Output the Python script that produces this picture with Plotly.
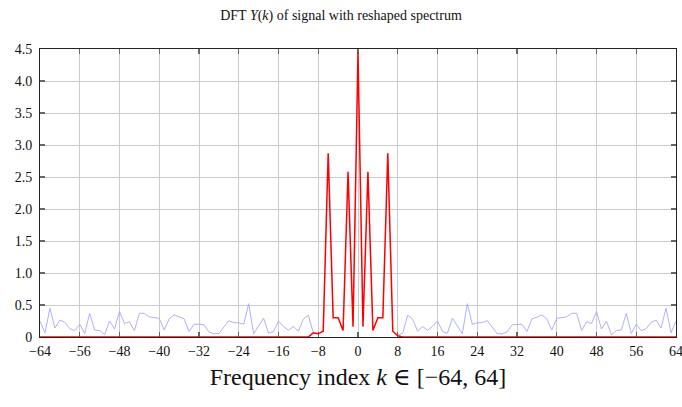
import plotly.graph_objects as go

k = list(range(-64, 65))

# |Y(k)| of noisy signal (blue), for k = -64..64 (None where not drawn)
blue_left = [0.25, 0.065, 0.45, 0.14, 0.265, 0.23, 0.13, 0.10, 0.20, 0.055,
             0.37, 0.11, 0.10, 0.035, 0.25, 0.125, 0.40, 0.21, 0.24, 0.10,
             0.37, 0.37, 0.315, 0.305, 0.29, 0.11, 0.285, 0.345, 0.31, 0.285,
             0.085, 0.20, 0.20, 0.19, 0.08, 0.05, 0.055, 0.155, 0.255, 0.225,
             0.22, 0.20, 0.52, 0.05, 0.17, 0.295, 0.06, 0.085, 0.25, 0.165,
             0.105, 0.165, 0.09, 0.28, 0.34, 0.07]          # k = -64..-9
blue_mid = [None] * 16                                      # k = -8..7
blue_right = [0.03, 0.06, 0.34, 0.28, 0.09, 0.165, 0.105, 0.165, 0.25, 0.085,
              0.06, 0.295, 0.17, 0.05, 0.52, 0.20, 0.22, 0.225, 0.255, 0.155,
              0.055, 0.05, 0.08, 0.19, 0.20, 0.20, 0.085, 0.285, 0.31, 0.345,
              0.285, 0.11, 0.29, 0.305, 0.315, 0.37, 0.37, 0.10, 0.24, 0.21,
              0.40, 0.125, 0.25, 0.035, 0.10, 0.11, 0.37, 0.055, 0.20, 0.10,
              0.13, 0.23, 0.265, 0.14, 0.45, 0.065, 0.25]   # k = 8..64
blue = blue_left + blue_mid + blue_right

# |Y(k)| of reshaped spectrum (red)
red_center = [0.065, 0.05, 0.09, 2.87, 0.30, 0.30, 0.10, 2.58, 0.16, 4.45,
              0.16, 2.58, 0.10, 0.30, 0.30, 2.87, 0.09, 0.02]   # k = -9..8
red = [0.0] * 55 + red_center + [0.0] * 56

x_ticks = list(range(-64, 65, 8))
x_labels = [("\u2212" + str(-v)) if v < 0 else str(v) for v in x_ticks]
y_ticks = [0, 0.5, 1.0, 1.5, 2.0, 2.5, 3.0, 3.5, 4.0, 4.5]
y_labels = ["0", "0.5", "1.0", "1.5", "2.0", "2.5", "3.0", "3.5", "4.0", "4.5"]

font_family = "Liberation Serif, DejaVu Serif, serif"

fig = go.Figure()
fig.add_trace(go.Scatter(x=k, y=blue, mode="lines",
                         line=dict(color="#b0b0ff", width=1),
                         connectgaps=False, showlegend=False, hoverinfo="skip"))
fig.add_trace(go.Scatter(x=k, y=red, mode="lines",
                         line=dict(color="#ff0000", width=1.5),
                         showlegend=False, hoverinfo="skip"))

axis_common = dict(
    showgrid=True, gridcolor="#cccccc", gridwidth=1,
    showline=True, linecolor="#222222", linewidth=1, mirror="allticks",
    ticks="inside", ticklen=5, tickcolor="#666666", tickwidth=1.2,
    zeroline=False, layer="below traces", ticklabeloverflow="allow",
    tickfont=dict(family=font_family, size=14, color="#111111"),
)

fig.update_layout(
    width=682, height=407,
    margin=dict(l=40, r=6, t=49, b=70, autoexpand=False),
    paper_bgcolor="white", plot_bgcolor="white",
    title=dict(text="DFT <i>Y</i>(<i>k</i>) of signal with reshaped spectrum",
               x=0.5, xanchor="center", y=0.963, yanchor="middle",
               font=dict(family=font_family, size=14, color="#111111")),
    xaxis=dict(range=[-64, 64], tickvals=x_ticks, ticktext=x_labels,
               automargin=False, ticklabelstandoff=1,
               title=dict(text="Frequency index <i>k</i> \u2208 [\u221264, 64]",
                          font=dict(family=font_family, size=24, color="#111111"),
                          standoff=10),
               **axis_common),
    yaxis=dict(range=[0, 4.5], tickvals=y_ticks, ticktext=y_labels,
               automargin=False, ticklabelstandoff=4,
               **axis_common),
)

fig.write_html(
    "out.html",
    config={"displayModeBar": False, "staticPlot": True},
    post_script="document.body.style.margin='0';document.body.style.padding='0';"
                "document.documentElement.style.overflow='hidden';",
)
